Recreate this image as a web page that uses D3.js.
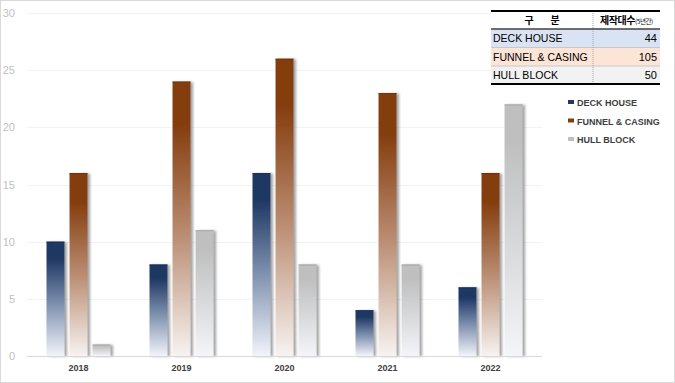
<!DOCTYPE html>
<html><head><meta charset="utf-8">
<script src="https://cdn.jsdelivr.net/npm/d3@7"></script>
<style>
html,body{margin:0;padding:0;background:#fff;}
svg{display:block;}
</style></head>
<body>
<svg id="chart" width="675" height="383"></svg>
<script>
const years = ["2018","2019","2020","2021","2022"];
const seriesNames = ["DECK HOUSE","FUNNEL & CASING","HULL BLOCK"];
const deckHouse = [10, 8, 16, 4, 6];
const funnelCasing = [16, 24, 26, 23, 16];
const hullBlock = [1, 11, 8, 8, 22];
const yTicks = [0,5,10,15,20,25,30];
const tableHeadLeft = ["구","분"];
const tableHeadRight = ["제작대수","(5년간)"];
const tableTotals = [44, 105, 50];

const seriesValues = [deckHouse, funnelCasing, hullBlock];
const palette = [
  {top:"#1f3864", mid:"#7f91b0", bot:"#f1f4fa", row:"#dae3f3"},
  {top:"#843c0c", mid:"#b98b70", bot:"#f7f3f1", row:"#fce4d6"},
  {top:"#bfbfbf", mid:"#d6d8da", bot:"#f3f5f8", row:"#f2f2f2"}
];

const svg = d3.select("#chart");
const defs = svg.append("defs");
palette.forEach((p,i)=>{
  const g = defs.append("linearGradient").attr("id","g"+i)
    .attr("x1",0).attr("y1",0).attr("x2",0).attr("y2",1);
  g.append("stop").attr("offset","0%").attr("stop-color",p.top);
  g.append("stop").attr("offset","15%").attr("stop-color",p.top);
  g.append("stop").attr("offset","55%").attr("stop-color",p.mid);
  g.append("stop").attr("offset","100%").attr("stop-color",p.bot);
});
const f = defs.append("filter").attr("id","sh").attr("x","-20%").attr("y","-5%").attr("width","160%").attr("height","115%");
f.append("feDropShadow").attr("dx",2.5).attr("dy",0.5).attr("stdDeviation",0.8)
  .attr("flood-color","#6f6f6f").attr("flood-opacity",0.65);

// outer border
svg.append("rect").attr("x",0.5).attr("y",0.5).attr("width",674).attr("height",382)
  .attr("fill","#fff").attr("stroke","#d9d9d9");

const y = d3.scaleLinear().domain([0,30]).range([356,13]);
const x0 = d3.scaleBand().domain(years).range([27,542]);
const x1 = d3.scaleBand().domain(seriesNames).range([-32,32]).paddingInner(0.22);

// gridlines
svg.append("g").selectAll("line").data(yTicks.filter(d=>d>0)).join("line")
  .attr("x1",27).attr("x2",542).attr("y1",d=>Math.round(y(d))+0.5).attr("y2",d=>Math.round(y(d))+0.5)
  .attr("stroke","#f2f2f2");

// y axis labels
const yAxis = d3.axisLeft(y).tickValues(yTicks).tickSize(0).tickPadding(0);
const ya = svg.append("g").attr("transform","translate(15,0)").call(yAxis);
ya.select(".domain").remove();
ya.selectAll("text").attr("fill","#bfbfbf").attr("font-size",11)
  .attr("font-family","Liberation Sans, Arial, sans-serif");

// bars
const groups = svg.append("g").selectAll("g").data(years).join("g")
  .attr("transform",d=>`translate(${x0(d)+x0.bandwidth()/2},0)`);
groups.selectAll("rect").data((d,i)=>seriesNames.map((s,k)=>({s,k,v:seriesValues[k][i]}))).join("rect")
  .attr("x",d=>x1(d.s)).attr("width",x1.bandwidth())
  .attr("y",d=>y(d.v)).attr("height",d=>y(0)-y(d.v))
  .attr("fill",d=>`url(#g${d.k})`).attr("filter","url(#sh)");
groups.selectAll("line.top").data((d,i)=>seriesNames.map((s,k)=>({s,k,v:seriesValues[k][i]}))).join("line")
  .attr("class","top")
  .attr("x1",d=>x1(d.s)).attr("x2",d=>x1(d.s)+x1.bandwidth())
  .attr("y1",d=>y(d.v)+0.5).attr("y2",d=>y(d.v)+0.5)
  .attr("stroke",d=>d3.color(palette[d.k].top).darker(0.4)).attr("stroke-width",1);

// x axis
svg.append("line").attr("x1",27).attr("x2",542).attr("y1",356.5).attr("y2",356.5).attr("stroke","#d9d9d9");
const xAxis = d3.axisBottom(x0).tickSize(0).tickPadding(0);
const xa = svg.append("g").attr("transform","translate(0,365)").call(xAxis);
xa.select(".domain").remove();
xa.selectAll("text").attr("fill","#404040").attr("font-size",9).attr("font-weight","bold")
  .attr("font-family","Liberation Sans, Arial, sans-serif");

// legend
const lg = svg.append("g").selectAll("g").data(seriesNames).join("g")
  .attr("transform",(d,i)=>`translate(568,${103+i*18.5})`);
lg.append("rect").attr("x",0).attr("y",-3).attr("width",6).attr("height",4).attr("fill",(d,i)=>palette[i].top);
lg.append("text").attr("x",9).attr("y",3).text(d=>d).attr("fill","#404040")
  .attr("font-size",9).attr("font-weight","bold").attr("font-family","Liberation Sans, Arial, sans-serif");

// table
const tX0 = 491, tX1 = 593, tX2 = 660;
const rowY = [11, 29, 47.5, 66, 84];
const tb = svg.append("g");
tb.append("rect").attr("x",tX0).attr("y",rowY[0]).attr("width",tX2-tX0).attr("height",rowY[1]-rowY[0]).attr("fill","#fff");
tb.selectAll("rect.row").data(seriesNames).join("rect").attr("class","row")
  .attr("x",tX0).attr("width",tX2-tX0).attr("y",(d,i)=>rowY[i+1]).attr("height",(d,i)=>rowY[i+2]-rowY[i+1])
  .attr("fill",(d,i)=>palette[i].row);
tb.selectAll("line.sep").data([rowY[2],rowY[3]]).join("line").attr("class","sep")
  .attr("x1",tX0).attr("x2",tX2).attr("y1",d=>d).attr("y2",d=>d).attr("stroke","#bfbfbf").attr("stroke-width",0.8);
tb.append("line").attr("x1",tX1).attr("x2",tX1).attr("y1",rowY[0]).attr("y2",rowY[4])
  .attr("stroke","#a6a6a6").attr("stroke-dasharray","1,1");
tb.append("line").attr("x1",tX0).attr("x2",tX2).attr("y1",rowY[0]).attr("y2",rowY[0]).attr("stroke","#000").attr("stroke-width",2);
tb.append("line").attr("x1",tX0).attr("x2",tX2).attr("y1",rowY[1]).attr("y2",rowY[1]).attr("stroke","#404040").attr("stroke-width",1.5);
tb.append("line").attr("x1",tX0).attr("x2",tX2).attr("y1",rowY[4]).attr("y2",rowY[4]).attr("stroke","#000").attr("stroke-width",2);
tb.selectAll("text.hl").data(tableHeadLeft).join("text").attr("class","hl")
  .attr("x",(d,i)=>(tX0+tX1)/2-13+i*26).attr("y",24).attr("text-anchor","middle")
  .attr("font-size",10).attr("font-weight","bold").attr("fill","#000")
  .attr("font-family","Noto Sans CJK KR, sans-serif").text(d=>d);
const ht = tb.append("text").attr("x",(tX1+tX2)/2).attr("y",24).attr("text-anchor","middle")
  .attr("fill","#000").attr("font-family","Noto Sans CJK KR, sans-serif");
ht.append("tspan").attr("font-size",10).attr("font-weight","bold").attr("letter-spacing",-0.5).text(tableHeadRight[0]);
ht.append("tspan").attr("font-size",6.5).attr("letter-spacing",-0.4).text(tableHeadRight[1]);
tb.selectAll("text.lab").data(seriesNames).join("text").attr("class","lab")
  .attr("x",tX0+2).attr("y",(d,i)=>(rowY[i+1]+rowY[i+2])/2+4).text(d=>d)
  .attr("font-size",10.5).attr("fill","#000").attr("font-family","Liberation Sans, Arial, sans-serif");
tb.selectAll("text.val").data(tableTotals).join("text").attr("class","val")
  .attr("x",tX2-3).attr("y",(d,i)=>(rowY[i+1]+rowY[i+2])/2+4).attr("text-anchor","end").text(d=>d)
  .attr("font-size",11).attr("fill","#000").attr("font-family","Liberation Sans, Arial, sans-serif");
</script>
</body></html>
